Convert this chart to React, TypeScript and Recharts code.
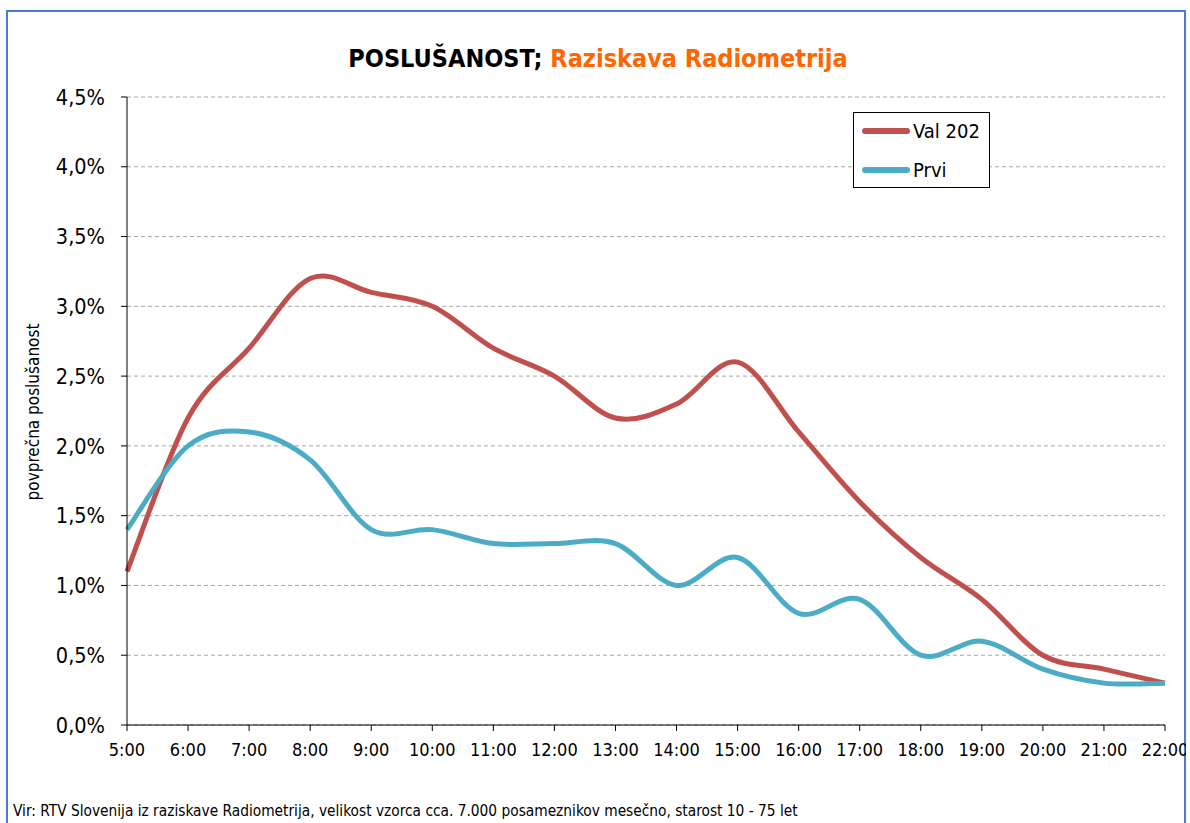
import React from "react";
import { LineChart, Line, XAxis, YAxis, CartesianGrid } from "recharts";

const hours = ["5:00","6:00","7:00","8:00","9:00","10:00","11:00","12:00","13:00","14:00","15:00","16:00","17:00","18:00","19:00","20:00","21:00","22:00"];
const val202 = [1.1, 2.2, 2.7, 3.2, 3.1, 3.0, 2.7, 2.5, 2.2, 2.3, 2.6, 2.1, 1.6, 1.2, 0.9, 0.5, 0.4, 0.3];
const prvi = [1.4, 2.0, 2.1, 1.9, 1.4, 1.4, 1.3, 1.3, 1.3, 1.0, 1.2, 0.8, 0.9, 0.5, 0.6, 0.4, 0.3, 0.3];
const yTicks = [0, 0.5, 1, 1.5, 2, 2.5, 3, 3.5, 4, 4.5];
const seriesNames = ["Val 202", "Prvi"];

const data = hours.map((h, i) => ({ hour: h, val: val202[i], prvi: prvi[i] }));

const FONT = "'DejaVu Sans Condensed', 'DejaVu Sans', sans-serif";
const RED = "#C0504D";
const BLUE = "#4BACC6";

// Excel-like smoothed line (uniform Catmull-Rom as Bezier)
function excelCurve(context: any) {
  let pts: [number, number][] = [];
  return {
    areaStart() {},
    areaEnd() {},
    lineStart() { pts = []; },
    point(x: number, y: number) { pts.push([+x, +y]); },
    lineEnd() {
      if (!pts.length) return;
      context.moveTo(pts[0][0], pts[0][1]);
      for (let i = 0; i < pts.length - 1; i++) {
        const p0 = pts[i - 1] || pts[i];
        const p1 = pts[i];
        const p2 = pts[i + 1];
        const p3 = pts[i + 2] || p2;
        context.bezierCurveTo(
          p1[0] + (p2[0] - p0[0]) / 6, p1[1] + (p2[1] - p0[1]) / 6,
          p2[0] - (p3[0] - p1[0]) / 6, p2[1] - (p3[1] - p1[1]) / 6,
          p2[0], p2[1]
        );
      }
    },
  };
}

const fmt = (v: number) => v.toFixed(1).replace(".", ",") + "%";

const LegendBox = () => (
  <div style={{ position: "absolute", left: 853, top: 112, width: 137, height: 76, border: "1.5px solid #000", background: "#fff", boxSizing: "border-box", fontFamily: FONT, fontSize: 20, color: "#000" }}>
    {[RED, BLUE].map((c, i) => (
      <div key={i} style={{ position: "absolute", left: 8, top: i === 0 ? 6 : 45, height: 24, display: "flex", alignItems: "center" }}>
        <div style={{ width: 48, height: 6, borderRadius: 3, background: c, marginRight: 3 }} />
        <span>{seriesNames[i]}</span>
      </div>
    ))}
  </div>
);

export default function App() {
  return (
    <div style={{ position: "absolute", left: 0, top: 0, width: 1190, height: 823, background: "#fff", overflow: "hidden" }}>
      <div style={{ position: "absolute", left: 6, top: 10, width: 1180, height: 830, border: "2px solid #4A7BD0", boxSizing: "border-box" }} />
      <div style={{ position: "absolute", left: 0, top: 0, width: 1186, height: 823, overflow: "hidden" }}>
        <LineChart width={1190} height={823} data={data} margin={{ top: 97, right: 25, bottom: 48, left: 67 }}>
          <CartesianGrid vertical={false} stroke="#A6A6A6" strokeDasharray="4 3" />
          <XAxis
            dataKey="hour"
            stroke="#000"
            tickLine={{ stroke: "#000" }}
            tickSize={6}
            tickMargin={12}
            height={50}
            interval={0}
            tick={{ fill: "#000", fontSize: 18, fontFamily: FONT }}
          />
          <YAxis
            domain={[0, 4.5]}
            ticks={yTicks}
            tickFormatter={fmt}
            width={60}
            stroke="#000"
            tickSize={6}
            tickMargin={16}
            tick={{ fill: "#000", fontSize: 21.5, fontFamily: FONT }}
          />
          <Line dataKey="val" name={seriesNames[0]} type={excelCurve as any} stroke={RED} strokeWidth={5} dot={false} isAnimationActive={false} />
          <Line dataKey="prvi" name={seriesNames[1]} type={excelCurve as any} stroke={BLUE} strokeWidth={5} dot={false} isAnimationActive={false} />
          <text x={598} y={67} textAnchor="middle" fontFamily={FONT} fontSize={25} fontWeight="bold">
            <tspan fill="#000">POSLUŠANOST; </tspan>
            <tspan fill="#FF6600">Raziskava Radiometrija</tspan>
          </text>
          <text x={33} y={412} textAnchor="middle" dominantBaseline="central" fontFamily={FONT} fontSize={17} fill="#000" transform="rotate(-90 33 412)">
            povprečna poslušanost
          </text>
        </LineChart>
      </div>
      <LegendBox />
      <div style={{ position: "absolute", left: 13, top: 802, fontFamily: FONT, fontSize: 15.3, color: "#000", whiteSpace: "nowrap" }}>
        Vir: RTV Slovenija iz raziskave Radiometrija, velikost vzorca cca. 7.000 posameznikov mesečno, starost 10 - 75 let
      </div>
    </div>
  );
}
